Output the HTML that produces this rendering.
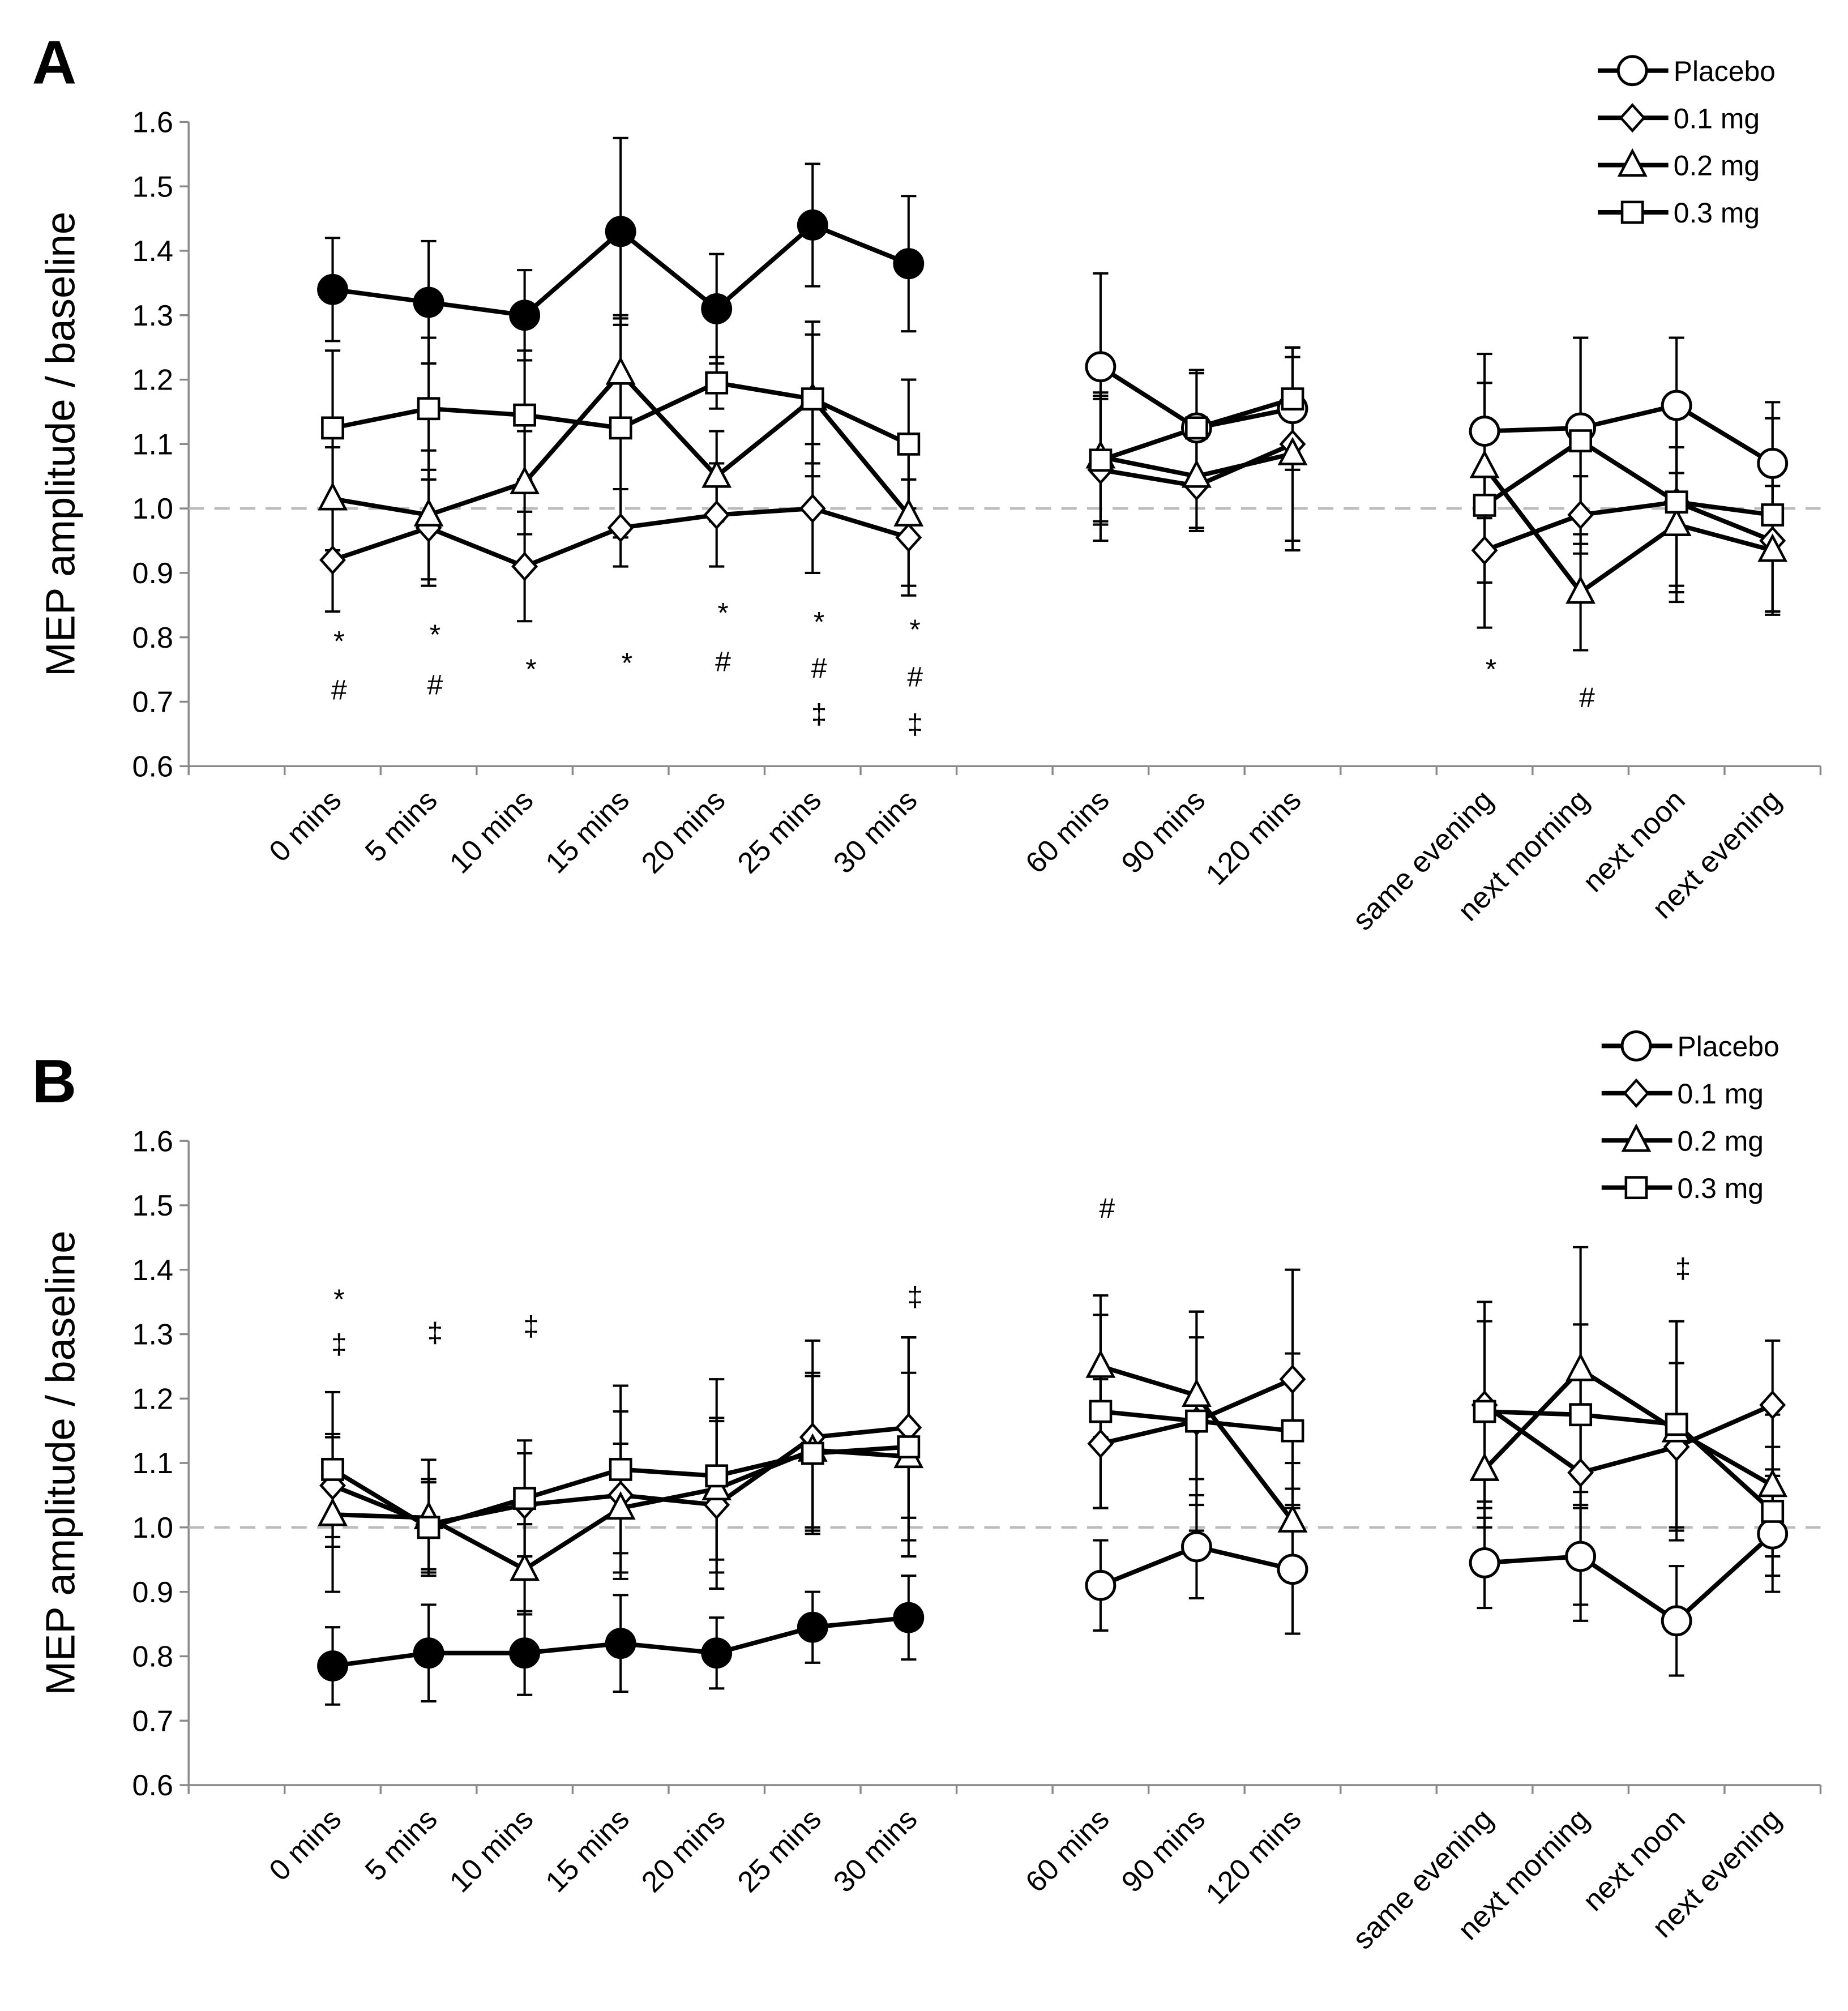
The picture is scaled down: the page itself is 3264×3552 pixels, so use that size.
<!DOCTYPE html>
<html><head><meta charset="utf-8">
<style>
html,body{margin:0;padding:0;background:#fff;}
svg{display:block;}
text{font-family:"Liberation Sans",Arial,sans-serif;fill:#000;}
</style></head>
<body>
<svg id="fig" width="3264" height="3552" viewBox="0 0 1440 1567" xmlns="http://www.w3.org/2000/svg">
<rect width="1440" height="1567" fill="#fff"/>
</svg>
<script>
const categories=["0 mins","5 mins","10 mins","15 mins","20 mins","25 mins","30 mins","60 mins","90 mins","120 mins","same evening","next morning","next noon","next evening"];
const slots=[1,2,3,4,5,6,7,9,10,11,13,14,15,16];
const yTicks=[0.6,0.7,0.8,0.9,1.0,1.1,1.2,1.3,1.4,1.5,1.6];
const seriesNames=["Placebo","0.1 mg","0.2 mg","0.3 mg"];
// Panel A
const aFilled=[1.34,1.32,1.30,1.43,1.31,1.44,1.38];
const aFilledErr=[0.08,0.095,0.07,0.145,0.085,0.095,0.105];
const aPlacebo=[null,null,null,null,null,null,null,1.22,1.125,1.155,1.12,1.125,1.16,1.07];
const aPlaceboErr=[0,0,0,0,0,0,0,0.145,0.085,0.095,0.12,0.14,0.105,0.095];
const aD1=[0.92,0.97,0.91,0.97,0.99,1.00,0.955,1.06,1.035,1.10,0.935,0.99,1.01,0.95];
const aD1Err=[0.08,0.09,0.085,0.06,0.08,0.10,0.09,0.11,0.07,0.15,0.05,0.06,0.13,0.11];
const aD2=[1.015,0.99,1.04,1.21,1.05,1.17,0.99,1.08,1.05,1.085,1.065,0.87,0.975,0.935];
const aD2Err=[0.08,0.1,0.08,0.09,0.07,0.1,0.11,0.1,0.08,0.15,0.13,0.09,0.12,0.1];
const aD3=[1.125,1.155,1.145,1.125,1.195,1.17,1.10,1.075,1.125,1.17,1.005,1.105,1.01,0.99];
const aD3Err=[0.12,0.11,0.1,0.17,0.04,0.12,0.1,0.1,0.09,0.08,0.19,0.16,0.14,0.15];
// Panel B
const bFilled=[0.785,0.805,0.805,0.82,0.805,0.845,0.86];
const bFilledErr=[0.06,0.075,0.065,0.075,0.055,0.055,0.065];
const bPlacebo=[null,null,null,null,null,null,null,0.91,0.97,0.935,0.945,0.955,0.855,0.99];
const bPlaceboErr=[0,0,0,0,0,0,0,0.07,0.08,0.1,0.07,0.075,0.085,0.09];
const bD1=[1.065,1.005,1.035,1.05,1.035,1.14,1.155,1.13,1.165,1.23,1.19,1.085,1.125,1.19];
const bD1Err=[0.08,0.07,0.08,0.13,0.13,0.15,0.14,0.1,0.17,0.17,0.16,0.23,0.13,0.1];
const bD2=[1.02,1.015,0.935,1.03,1.06,1.12,1.11,1.25,1.205,1.01,1.09,1.245,1.15,1.065];
const bD2Err=[0.12,0.09,0.07,0.1,0.11,0.12,0.13,0.11,0.13,0.09,0.09,0.19,0.17,0.11];
const bD3=[1.09,1.0,1.045,1.09,1.08,1.115,1.125,1.18,1.165,1.15,1.18,1.175,1.16,1.025];
const bD3Err=[0.12,0.07,0.09,0.13,0.15,0.12,0.17,0.15,0.13,0.12,0.14,0.14,0.16,0.1];
const annA=[[0,497,"*"],[0,537,"#"],[1,492,"*"],[1,533,"#"],[2,519,"*"],[3,514,"*"],[4,475,"*"],[4,515,"#"],[5,482,"*"],[5,520,"#"],[5,556,"‡"],[6,488,"*"],[6,527,"#"],[6,564,"‡"],[10,519,"*"],[11,543,"#"]];
const annB=[[0,1010,"*"],[0,1047,"‡"],[1,1038,"‡"],[2,1033,"‡"],[6,1010,"‡"],[7,941,"#"],[12,988,"‡"]];

const NS="http://www.w3.org/2000/svg";
const svg=document.getElementById('fig');
function mk(tag,attrs,parent){const e=document.createElementNS(NS,tag);for(const k in attrs)e.setAttribute(k,attrs[k]);(parent||svg).appendChild(e);return e;}
const X0=147,SW=74.8;
function xOf(i){return X0+(slots[i]+0.5)*SW;}

function marker(g,type,x,y,filled){
  const f=filled?"#000":"#fff";let e;
  if(type==="circle")e=mk('circle',{cx:x,cy:y,r:11,fill:f,stroke:"#000","stroke-width":2.2},g);
  else if(type==="diamond")e=mk('polygon',{points:`${x},${y-10} ${x+9},${y} ${x},${y+10} ${x-9},${y}`,fill:f,stroke:"#000","stroke-width":2},g);
  else if(type==="triangle")e=mk('polygon',{points:`${x},${y-11} ${x+10},${y+8} ${x-10},${y+8}`,fill:f,stroke:"#000","stroke-width":2},g);
  else e=mk('rect',{x:x-8,y:y-8,width:16,height:16,fill:f,stroke:"#000","stroke-width":2},g);
  return e;
}

function panel(label,top,data,ann){
  const yTop=top,yBot=top+502;
  const yOf=v=>yBot-(v-0.6)/1.0*502;
  const g=mk('g',{});
  
  
  const pl=mk('text',{x:25,y:top-30,"font-size":48,"font-weight":"bold"},g);pl.textContent=label;
  
  
  const ya=mk('line',{x1:X0,y1:yTop,x2:X0,y2:yBot,stroke:"#888","stroke-width":1.5},g);
  
  
  const xa=mk('line',{x1:X0,y1:yBot,x2:X0+17*SW,y2:yBot,stroke:"#888","stroke-width":1.5},g);
  
  
  for(let s=0;s<=17;s++)mk('line',{x1:X0+s*SW,y1:yBot,x2:X0+s*SW,y2:yBot+7,stroke:"#888","stroke-width":1.5},g);
  yTicks.forEach(v=>{
    mk('line',{x1:X0-7,y1:yOf(v),x2:X0,y2:yOf(v),stroke:"#888","stroke-width":1.5},g);
    const t=mk('text',{x:X0-12,y:yOf(v)+8,"font-size":23,"text-anchor":"end"},g);t.textContent=v.toFixed(1);
    
    
  });
  const yl=mk('text',{x:0,y:0,"font-size":32,"text-anchor":"middle",transform:`translate(58,${(yTop+yBot)/2}) rotate(-90)`},g);
  yl.textContent="MEP amplitude / baseline";
  
  
  categories.forEach((c,i)=>{
    const x=xOf(i)+8,y=yBot+28;
    const t=mk('text',{x:0,y:0,"font-size":23,"text-anchor":"end",transform:`translate(${x},${y}) rotate(-45)`},g);
    t.textContent=c;
    
    
  });
  const dl=mk('line',{x1:X0,y1:yOf(1),x2:X0+17*SW,y2:yOf(1),stroke:"#bbb","stroke-width":2,"stroke-dasharray":"12,8"},g);
  
  
  data.forEach(sr=>{
    const sg=mk('g',{},g);
    
    
    sr.vals.forEach((v,i)=>{
      if(v==null)return;const e=sr.err[i];if(!e)return;const x=xOf(i);
      mk('line',{x1:x,y1:yOf(v+e),x2:x,y2:yOf(v-e),stroke:"#000","stroke-width":1.8},sg);
      mk('line',{x1:x-6,y1:yOf(v+e),x2:x+6,y2:yOf(v+e),stroke:"#000","stroke-width":1.8},sg);
      mk('line',{x1:x-6,y1:yOf(v-e),x2:x+6,y2:yOf(v-e),stroke:"#000","stroke-width":1.8},sg);
    });
    [[0,6],[7,9],[10,13]].forEach(([a,b])=>{
      const pts=[];for(let i=a;i<=b;i++)if(sr.vals[i]!=null)pts.push(xOf(i)+","+yOf(sr.vals[i]));
      if(pts.length>1)mk('polyline',{points:pts.join(" "),fill:"none",stroke:"#000","stroke-width":3.5},sg);
    });
  });
  data.forEach(sr=>{
    sr.vals.forEach((v,i)=>{
      if(v==null)return;
      const m=marker(g,sr.type,xOf(i),yOf(v),sr.filled);
      
      
    });
  });
  ann.forEach(([i,y,s])=>{
    const t=mk('text',{x:xOf(i)+5,y:y+(s==="*"?10:8),"font-size":22,"text-anchor":"middle"},g);t.textContent=s;
    
    
  });
  const types=["circle","diamond","triangle","square"];
  const ly0=label==="A"?top-40:top-74;
  const lx=label==="A"?1245:1248;
  seriesNames.forEach((n,k)=>{
    const y=ly0+k*36.8;
    const lg=mk('g',{},g);
    
    
    mk('line',{x1:lx,y1:y,x2:lx+55,y2:y,stroke:"#000","stroke-width":3.5},lg);
    marker(lg,types[k],lx+27,y,false);
    const t=mk('text',{x:lx+59,y:y+8,"font-size":22},lg);t.textContent=n;
  });
}
panel("A",95,[
  {name:"placebo-filled",type:"circle",filled:true,vals:aFilled,err:aFilledErr},
  {name:"placebo",type:"circle",filled:false,vals:aPlacebo,err:aPlaceboErr},
  {name:"0-1mg",type:"diamond",filled:false,vals:aD1,err:aD1Err},
  {name:"0-2mg",type:"triangle",filled:false,vals:aD2,err:aD2Err},
  {name:"0-3mg",type:"square",filled:false,vals:aD3,err:aD3Err}
],annA);
panel("B",889,[
  {name:"placebo-filled",type:"circle",filled:true,vals:bFilled,err:bFilledErr},
  {name:"placebo",type:"circle",filled:false,vals:bPlacebo,err:bPlaceboErr},
  {name:"0-1mg",type:"diamond",filled:false,vals:bD1,err:bD1Err},
  {name:"0-2mg",type:"triangle",filled:false,vals:bD2,err:bD2Err},
  {name:"0-3mg",type:"square",filled:false,vals:bD3,err:bD3Err}
],annB);
</script>
</body></html>
